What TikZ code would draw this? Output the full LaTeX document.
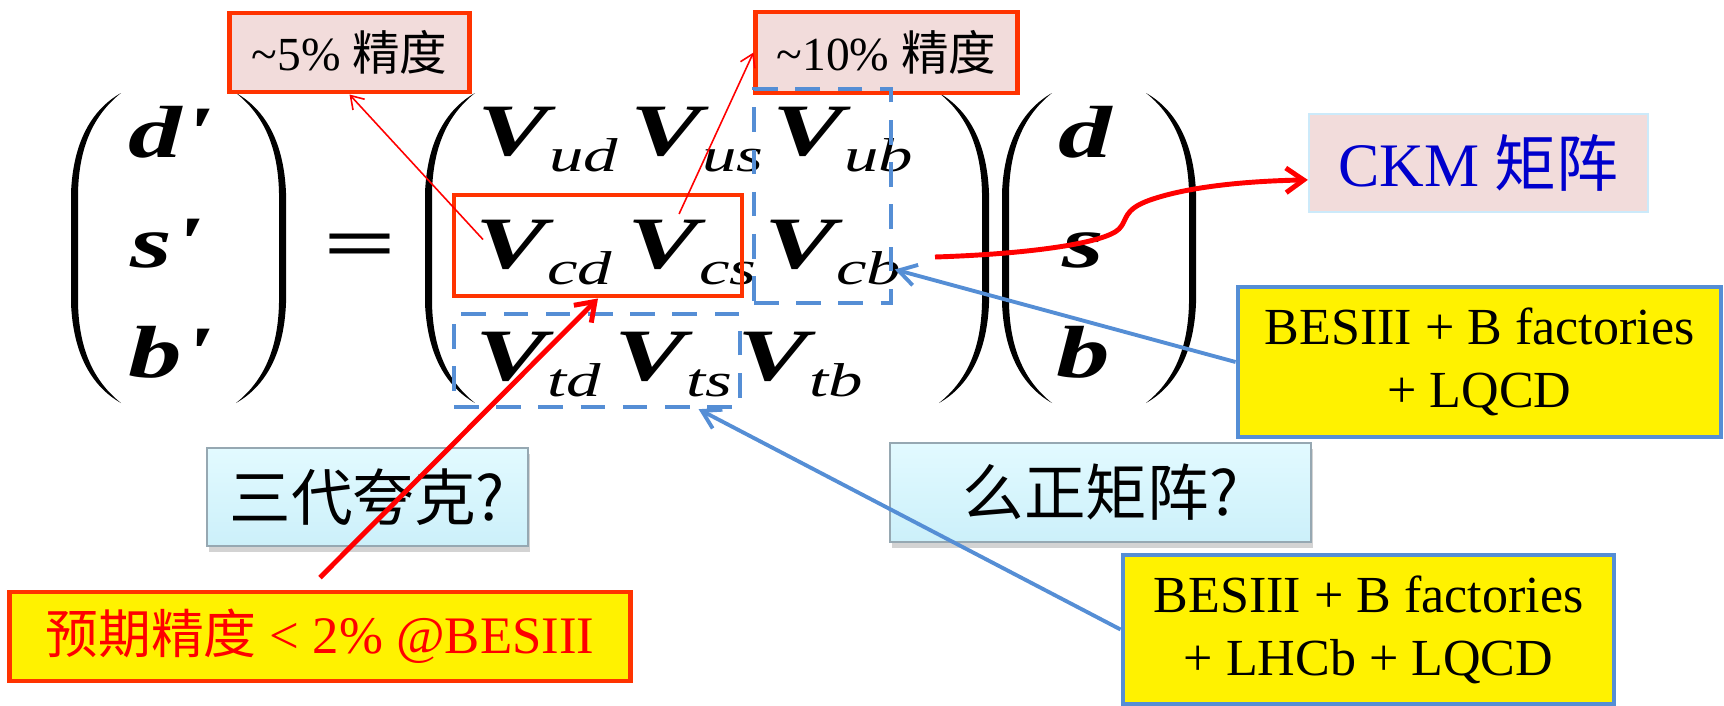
\documentclass[tikz,border=0pt]{standalone}
\usepackage{fontspec}
\setmainfont{Liberation Serif}
\newfontfamily\cjk{Noto Sans CJK SC}
\usepackage{graphicx}
\usepackage{tikz}
\usetikzlibrary{arrows.meta,positioning,fit,calc,shadows}
\usepackage{xcolor}
\definecolor{framered}{RGB}{255,51,0}
\definecolor{boxpink}{RGB}{242,220,219}
\definecolor{lineblue}{RGB}{85,142,213}
\definecolor{ckmblue}{RGB}{0,0,204}
\definecolor{cyantop}{RGB}{226,250,255}
\definecolor{cyanbot}{RGB}{204,240,250}
\definecolor{edgegray}{RGB}{150,168,178}
\definecolor{edgecyan}{RGB}{204,234,250}

\newcommand\eqfont{\fontsize{21pt}{21pt}\selectfont\bfseries\itshape}
\newcommand\wide[1]{\scalebox{1.45}[1]{#1}}
\newcommand\ckmv[1]{\wide{\eqfont V\raisebox{-4.8pt}{\fontsize{13.5pt}{13.5pt}\selectfont\mdseries #1}}}

\tikzset{
  paren/.pic={
    \fill (0,0) .. controls (-30,17) and (-48,50) .. (-50,100) -- (-50,210)
      .. controls (-48,260) and (-30,293) .. (0,310)
      .. controls (-25,290) and (-42,260) .. (-43,210) -- (-43,100)
      .. controls (-42,50) and (-25,20) .. (0,0) -- cycle;
  }
}

\begin{document}
\begin{tikzpicture}[
  x=0.01cm, y=-0.01cm,
  eq/.style={inner sep=0pt, anchor=base west},
  pbox/.style={rectangle, draw=framered, fill=boxpink, line width=1.4pt, inner sep=0pt, font=\fontsize{13.5pt}{13.5pt}\selectfont},
  ybox/.style={rectangle, draw=lineblue, fill=yellow, line width=1.3pt, inner sep=0pt, align=center, font=\fontsize{14.8pt}{17.9pt}\selectfont},
  qbox/.style={rectangle, draw=edgegray, top color=cyantop, bottom color=cyanbot, line width=0.6pt, inner sep=0pt,
    drop shadow={opacity=0.35, shadow xshift=0.6pt, shadow yshift=-1.6pt}, font=\fontsize{17.5pt}{17.5pt}\selectfont\cjk},
  dbox/.style={rectangle, draw=lineblue, line width=1.25pt, dash pattern=on 7pt off 5pt, inner sep=0pt},
  rbox/.style={rectangle, draw=framered, line width=1.4pt, inner sep=0pt},
  redarr/.style={-{Straight Barb[length=5pt,width=7pt]}, line width=1.4pt, red},
  thinarr/.style={-{Straight Barb[length=3.5pt,width=4.5pt]}, line width=0.45pt, red},
  bluearr/.style={-{Straight Barb[length=5pt,width=6pt]}, line width=1.1pt, draw=lineblue}
]
\useasboundingbox (0,0) rectangle (1724,706);

% the equation
\pic at (121,93) {paren};
\pic[xscale=-1] at (236,93) {paren};
\pic at (475,93) {paren};
\pic[xscale=-1] at (939,93) {paren};
\pic at (1052,93) {paren};
\pic[xscale=-1] at (1146,93) {paren};

\node[eq] (dp) at (128,157) {\wide{\eqfont d\textquotesingle}};
\node[eq] (sp) at (130,267) {\wide{\eqfont s\textquotesingle}};
\node[eq] (bp) at (128,377) {\wide{\eqfont b\textquotesingle}};
\node[eq] (eqs) at (322,268) {\scalebox{1.75}[1]{\eqfont =}};
\node[eq] (vud) at (477,155) {\ckmv{ud}};
\node[eq] (vus) at (630,155) {\ckmv{us}};
\node[eq] (vub) at (772,155) {\ckmv{ub}};
\node[eq] (vcd) at (475,268) {\ckmv{cd}};
\node[eq] (vcs) at (627,268) {\ckmv{cs}};
\node[eq] (vcb) at (764,268) {\ckmv{cb}};
\node[eq] (vtd) at (475,380) {\ckmv{td}};
\node[eq] (vts) at (614,380) {\ckmv{ts}};
\node[eq] (vtb) at (737,380) {\ckmv{tb}};
\node[eq] (qd) at (1058,157) {\wide{\eqfont d}};
\node[eq] (qs) at (1062,267) {\wide{\eqfont s}};
\node[eq] (qb) at (1056,377) {\wide{\eqfont b}};

% labels
\node[pbox, minimum width=2.39cm, minimum height=0.79cm] (p5) at (349.5,52.5) {\textasciitilde5\% {\cjk 精度}};
\node[pbox, minimum width=2.61cm, minimum height=0.81cm] (p10) at (886.5,52.5) {\textasciitilde10\% {\cjk 精度}};
\node[rectangle, draw=edgecyan, fill=boxpink, line width=0.6pt, minimum width=3.39cm, minimum height=0.98cm,
  font=\fontsize{17.6pt}{17.6pt}\selectfont, text=ckmblue] (ckm) at (1478.5,163) {CKM {\cjk 矩阵}};
\node[ybox, minimum width=4.83cm, minimum height=1.50cm] (bes1) at (1479.5,362) {BESIII + B factories\\+ LQCD};
\node[ybox, minimum width=4.91cm, minimum height=1.49cm] (bes2) at (1368.5,629.5) {BESIII + B factories\\+ LHCb + LQCD};
\node[qbox, minimum width=3.21cm, minimum height=0.98cm] (gen) at (367.5,497) {三代夸克?};
\node[qbox, minimum width=4.21cm, minimum height=0.99cm] (unit) at (1100.5,492.5) {么正矩阵?};
\node[rectangle, draw=framered, fill=yellow, line width=1.4pt, inner sep=0pt, minimum width=6.20cm, minimum height=0.89cm,
  font=\fontsize{15pt}{15pt}\selectfont, text=red] (exp) at (320,636.5) {{\cjk 预期精度} < 2\% @BESIII};

% frames round the elements
\node[rbox, fit={(454,195) (742,296)}] (rcs) {};
\node[dbox, fit={(754,89) (891,303)}] (dcol) {};
\node[dbox, fit={(454,314) (740,407)}] (dts) {};

\coordinate (cbout) at (935,257);
\draw[thinarr] ([shift={(8,-13)}]vcd.west) -- (p5.south);
\draw[thinarr] ([shift={(-13,-5)}]vcs.north) -- (p10.west);
\draw[redarr] ([yshift=3.4pt]exp.north) -- (rcs.south);
\draw[redarr] (cbout) .. controls (1030,254) and (1105,243) .. (1119,229)
  .. controls (1128,220) and (1122,210) .. (1150,200)
  .. controls (1190,186) and (1250,181) .. ([yshift=-4.8pt]ckm.west);
\draw[bluearr] (bes1.west) -- ([shift={(-7,17)}]vcb.east);
\draw[bluearr] (bes2.west) -- ($(dts.south west)!0.85!(dts.south east)$);
\end{tikzpicture}
\end{document}
